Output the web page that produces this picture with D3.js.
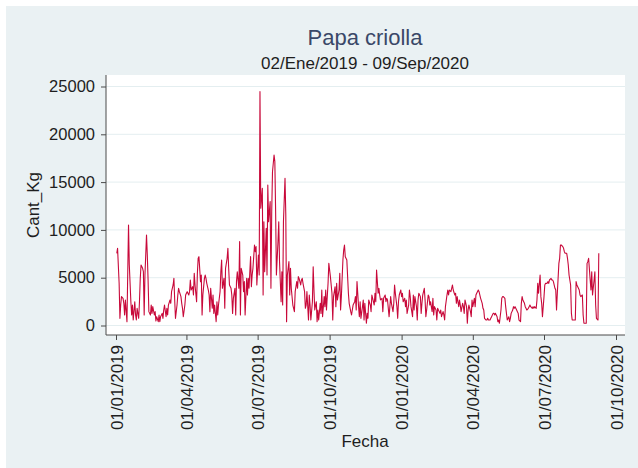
<!DOCTYPE html>
<html><head><meta charset="utf-8">
<script src="https://cdn.jsdelivr.net/npm/d3@7"></script>
<style>
body{margin:0;background:#fff;}
text{font-family:"Liberation Sans",Arial,sans-serif;}
</style>
</head><body>
<svg id="chart" width="638" height="468"></svg>
<script>
const chartTitle = "Papa criolla";
const chartSubtitle = "02/Ene/2019 - 09/Sep/2020";
const xLabel = "Fecha";
const yLabel = "Cant_Kg";
const startDate = "2019-01-02";
const endDate = "2020-09-09";
const yTicks = [0, 5000, 10000, 15000, 20000, 25000];
const xTickDates = ["2019-01-01","2019-04-01","2019-07-01","2019-10-01","2020-01-01","2020-04-01","2020-07-01","2020-10-01"];
const xTickLabels = ["01/01/2019","01/04/2019","01/07/2019","01/10/2019","01/01/2020","01/04/2020","01/07/2020","01/10/2020"];

// Cant_Kg series (chronological, evenly spaced over the period)
const cantKg = [
7550,8070,4410,750,2140,3020,2840,2320,1100,2670,
400,5460,10510,6330,2490,1100,2140,575,2490,1100,
575,1800,750,2490,4930,6330,5980,5630,1100,5280,
9470,7380,4760,1450,1100,2140,1270,1970,1100,1450,
470,920,400,1100,400,920,1270,750,1620,2140,
920,1800,1100,2140,2670,2320,3540,4240,4930,2670,
750,2140,3190,3890,3540,3020,2320,1800,920,2140,
3190,3370,3540,3190,3540,4760,3710,4060,3190,5460,
4240,2490,5460,7030,7200,4590,5280,1100,3190,4930,
5280,4930,4410,3710,3190,1450,3890,
1800,3190,1270,2140,400,2490,1100,2140,3540,5630,
6850,3890,4930,1800,5980,7030,8070,5980,4240,3890,
3190,1270,2840,3890,1100,4590,5630,3890,8770,1100,
5980,5280,3540,4590,1100,4930,3190,4930,3890,7200,
4070,5280,5980,8420,7720,8250,4240,7380,5280,
24460,12260,14350,3190,10860,5630,10160,5280,14700,10860,
12960,3890,11910,16090,17840,17140,11910,5280,8770,10860,
6680,2490,5630,2140,10860,15400,11560,400,5280,6680,3190,5980,
3890,2140,1800,1450,3540,4590,3890,5110,4930,4240,
4760,4930,4410,3540,1800,2140,3540,580,3190,2140,580,2490,
6150,3710,1620,2490,400,1620,575,2320,1270,3710,
920,3020,1970,3710,1620,4410,6500,5810,5110,3370,
575,3020,4060,1970,4410,2670,3710,5460,1620,3020,
6850,7900,8420,7200,6850,5110,3370,2320,1450,1100,
1620,2140,2490,3020,1620,4590,1970,920,2490,750,
1970,2670,575,2320,230,1270,750,2670,2140,1450,
3190,2840,2140,3370,2490,5810,3370,3890,3190,2670,
2840,1450,2840,3190,2490,2840,2670,920,1970,3020,
2320,1450,2320,4240,3370,1970,750,2490,3190,3710,
3020,3370,2490,2840,1970,2670,1270,2140,3710,3020,
1970,
920,3190,1620,3020,1970,575,2670,3370,3020,1270,
2320,3190,3890,2670,920,1620,3190,3020,2140,2490,
1450,2840,1100,1970,1620,575,1800,1450,1270,1620,
920,1450,1100,575,1970,3190,3710,3190,3710,3540,
3890,4240,3710,3190,3370,2320,3020,1970,2670,2140,
1450,2320,1970,1270,2670,1970,230,1620,2140,1450,
920,2670,1970,2840,1970,3190,3370,3710,3540,3190,
2840,2320,1800,1620,750,575,575,750,575,575,
750,920,1270,1270,1100,1270,920,400,575,230,
1620,2840,3020,3020,2840,1970,1270,575,920,400,
750,1270,1620,1970,1800,1970,1620,1450,1270,575,
400,2320,3020,2670,2320,1970,1800,1620,1800,1970,
2140,1970,1800,1970,1800,1970,1800,2670,
4410,3370,5280,3020,
2320,920,3020,4240,4410,4410,4590,4410,4760,4930,
4760,4760,4590,3890,3710,1620,3370,6500,7030,8420,
8420,8250,8070,7720,7550,7550,7030,6330,5280,4240,
1270,575,575,575,575,4590,4240,3890,3710,3190,
3020,3190,1100,230,230,230,
6500,6680,7030,4760,3710,5630,3190,4760,5630,2140,750,575,
7550
];

const parse = d3.utcParse("%Y-%m-%d");
const t0 = parse(startDate), t1 = parse(endDate);
const nDays = d3.utcDay.count(t0, t1);
const n = cantKg.length;
const data = cantKg.map((v, i) => ({date: d3.utcDay.offset(t0, Math.round(i * nDays / (n - 1))), value: v}));

const W = 638, H = 468;
const plot = {left: 106, right: 625, top: 75, bottom: 335};
const svg = d3.select("#chart");

// background panel
svg.append("rect").attr("x", 6).attr("y", 6).attr("width", W - 6).attr("height", H - 6).attr("fill", "#eaf1f3");
svg.append("rect").attr("x", plot.left).attr("y", plot.top).attr("width", plot.right - plot.left).attr("height", plot.bottom - plot.top).attr("fill", "#ffffff");

const x = d3.scaleUtc().domain([parse(xTickDates[0]), parse(xTickDates[xTickDates.length - 1])]).range([116, 616]);
const y = d3.scaleLinear().domain([0, 25000]).range([325.5, 86.5]);

// gridlines
svg.append("g").selectAll("line").data(yTicks).join("line")
  .attr("x1", plot.left).attr("x2", plot.right)
  .attr("y1", d => y(d)).attr("y2", d => y(d))
  .attr("stroke", "#e4eef0").attr("stroke-width", 1);

// y axis
const yAxis = d3.axisLeft(y).tickValues(yTicks).tickSize(5).tickPadding(6).tickFormat(d3.format("d"));
const gy = svg.append("g").attr("transform", `translate(${plot.left},0)`).call(yAxis);
gy.select(".domain").attr("d", `M0,${plot.top}V${plot.bottom}`).attr("stroke", "#4a4a4a");
gy.selectAll(".tick line").attr("stroke", "#4a4a4a");
gy.selectAll(".tick text").attr("font-size", 16.5).attr("fill", "#1e1e1e").attr("font-family", "Liberation Sans, Arial, sans-serif");

// x axis
const xAxis = d3.axisBottom(x).tickValues(xTickDates.map(parse)).tickSize(5)
  .tickFormat((d, i) => xTickLabels[i]);
const gx = svg.append("g").attr("transform", `translate(0,${plot.bottom})`).call(xAxis);
gx.select(".domain").attr("d", `M${plot.left},0H${plot.right}`).attr("stroke", "#4a4a4a");
gx.selectAll(".tick line").attr("stroke", "#4a4a4a");
gx.selectAll(".tick text")
  .attr("font-size", 17).attr("fill", "#1e1e1e").attr("font-family", "Liberation Sans, Arial, sans-serif")
  .attr("text-anchor", "end").attr("transform", "rotate(-90)")
  .attr("x", -10).attr("y", 0).attr("dy", "0.36em");

// line
const line = d3.line().x(d => x(d.date)).y(d => y(d.value));
svg.append("path").datum(data).attr("d", line)
  .attr("fill", "none").attr("stroke", "#c8093a").attr("stroke-width", 1.1).attr("stroke-linejoin", "round");

// titles
svg.append("text").attr("x", 365).attr("y", 45).attr("text-anchor", "middle")
  .attr("font-size", 22).attr("fill", "#3a4868").text(chartTitle);
svg.append("text").attr("x", 365).attr("y", 69).attr("text-anchor", "middle")
  .attr("font-size", 17).attr("fill", "#1e1e1e").text(chartSubtitle);
svg.append("text").attr("x", 365).attr("y", 447).attr("text-anchor", "middle")
  .attr("font-size", 17).attr("fill", "#1e1e1e").text(xLabel);
svg.append("text").attr("transform", "translate(39,205) rotate(-90)").attr("text-anchor", "middle")
  .attr("font-size", 17).attr("fill", "#1e1e1e").text(yLabel);
</script>
</body></html>
